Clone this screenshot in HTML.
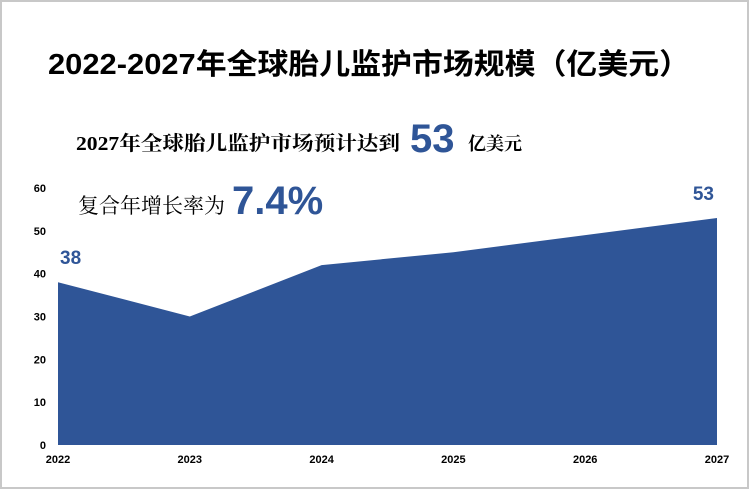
<!DOCTYPE html>
<html><head><meta charset="utf-8"><style>
body{margin:0;background:#fff}
svg{display:block}
</style></head><body>
<svg width="750" height="490" viewBox="0 0 750 490" xmlns="http://www.w3.org/2000/svg">
<rect x="1" y="1" width="747" height="487" fill="#fff" stroke="#c8c8c8" stroke-width="2"/>
<text x="48" y="74" textLength="642" lengthAdjust="spacingAndGlyphs" font-family="'Liberation Sans','Noto Sans CJK SC',sans-serif" font-size="29" font-weight="bold" fill="#000">2022-2027年全球胎儿监护市场规模（亿美元）</text>
<g id="plot"></g>
<g font-family="'Liberation Serif','Noto Serif CJK SC',serif" fill="#000">
<text x="76" y="150" textLength="324" lengthAdjust="spacingAndGlyphs" font-size="20" font-weight="bold">2027年全球胎儿监护市场预计达到</text>
<text x="410" y="152" font-size="40" font-weight="bold" fill="#2f5597" font-family="'Liberation Sans',sans-serif">53</text>
<text x="468" y="150" font-size="18" font-weight="bold">亿美元</text>
<text x="78" y="213" textLength="147" lengthAdjust="spacingAndGlyphs" font-size="21">复合年增长率为</text>
<text x="232" y="214" font-size="40" font-weight="bold" fill="#2f5597" font-family="'Liberation Sans',sans-serif">7.4%</text>
</g>
</svg>
<script>
const years=['2022','2023','2024','2025','2026','2027'];
const values=[38,30,42,45,49,53];
const yTicks=[0,10,20,30,40,50,60];
const labelIdx=[0,5];
const ns='http://www.w3.org/2000/svg';
const g=document.getElementById('plot');
const x0=58,x1=717,y0=445,y1=188,ymax=60;
const xs=i=>x0+(x1-x0)*i/(years.length-1);
const ys=v=>y0-(y0-y1)*v/ymax;
function mk(t,a){const e=document.createElementNS(ns,t);for(const k in a)e.setAttribute(k,a[k]);g.appendChild(e);return e;}
let d='M'+xs(0)+','+y0;
values.forEach((v,i)=>{d+=' L'+xs(i)+','+ys(v);});
d+=' L'+xs(values.length-1)+','+y0+' Z';
const area=mk('path',{d:d,fill:'#2f5597'});


yTicks.forEach(t=>{const e=mk('text',{x:46,y:ys(t)+4,'text-anchor':'end','font-family':'Liberation Sans,sans-serif','font-size':'11','font-weight':'bold',fill:'#000'});e.textContent=t;

});
years.forEach((y,i)=>{const e=mk('text',{x:xs(i),y:463,'text-anchor':'middle','font-family':'Liberation Sans,sans-serif','font-size':'11','font-weight':'bold',fill:'#000'});e.textContent=y;

});
labelIdx.forEach(i=>{const e=mk('text',{x:i===0?xs(i)+2:xs(i)-3,y:ys(values[i])-18,'text-anchor':i===0?'start':'end','font-family':'Liberation Sans,sans-serif','font-size':'19','font-weight':'bold',fill:'#2f5597'});e.textContent=values[i];

});
</script>
</body></html>
